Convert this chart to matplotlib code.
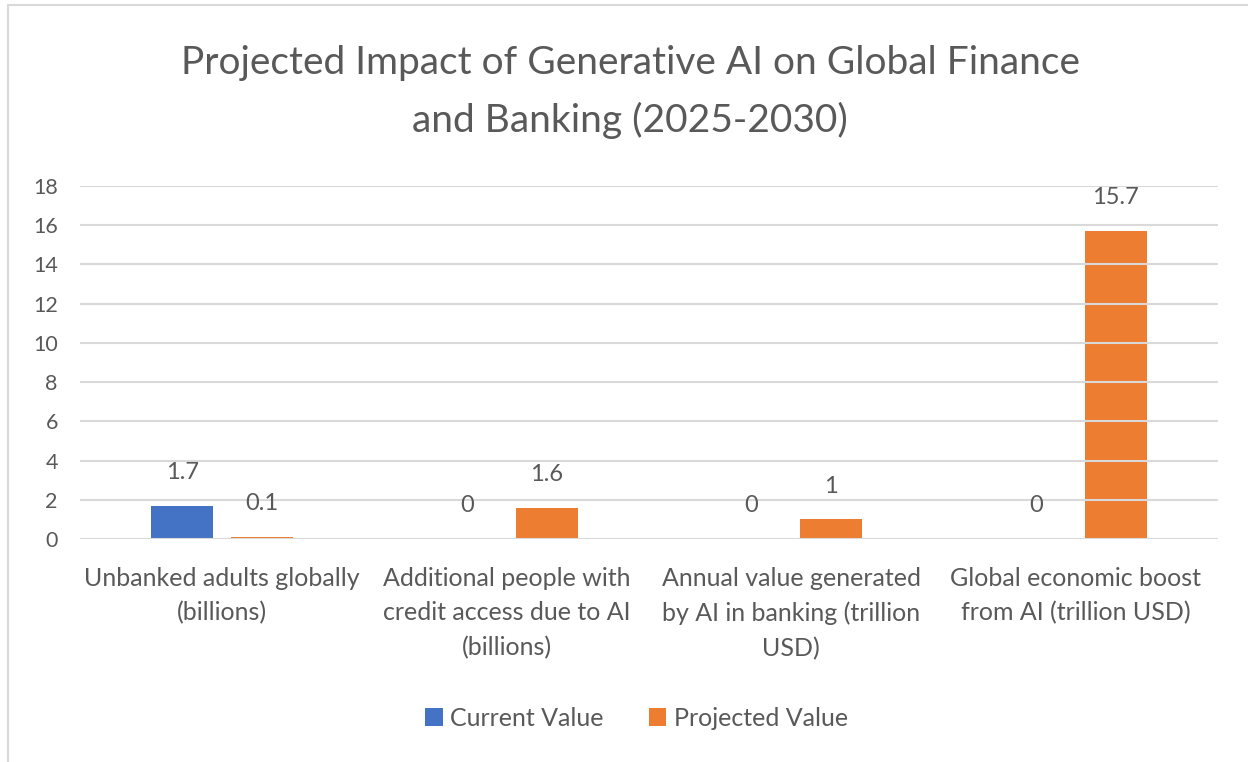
import matplotlib.pyplot as plt
import numpy as np
from matplotlib.patches import Rectangle

plt.rcParams['font.family'] = ['Lato', 'DejaVu Sans']

# data
categories = ['Unbanked adults globally\n(billions)',
              'Additional people with\ncredit access due to AI\n(billions)',
              'Annual value generated\nby AI in banking (trillion\nUSD)',
              'Global economic boost\nfrom AI (trillion USD)']
current_value = [1.7, 0, 0, 0]
projected_value = [0.1, 1.6, 1, 15.7]
series_names = ['Current Value', 'Projected Value']
colors = ['#4472C4', '#ED7D31']
text_color = '#595959'

fig = plt.figure(figsize=(12.48, 7.62), dpi=100)
ax = fig.add_axes([0.0641, 0.2927, 0.912, 0.4633])

x = np.arange(len(categories))
w = 0.218
off = 0.14
bars1 = ax.bar(x - off, current_value, w, color=colors[0], label=series_names[0], zorder=1)
bars2 = ax.bar(x + off, projected_value, w, color=colors[1], label=series_names[1], zorder=1)

# data labels
for bars, vals in ((bars1, current_value), (bars2, projected_value)):
    for b, v in zip(bars, vals):
        ax.annotate(f'{v:g}', (b.get_x() + b.get_width() / 2, v),
                    xytext=(0, 24), textcoords='offset points',
                    ha='center', va='center', fontsize=17, color=text_color)

ax.set_ylim(0, 18)
ax.set_yticks(np.arange(0, 19, 2))
ax.set_xlim(-0.5, len(categories) - 0.5)
ax.set_xticks(x)
ax.set_xticklabels(categories, fontsize=18, color=text_color, linespacing=1.6)
ax.tick_params(axis='y', labelsize=15.5, labelcolor=text_color, length=0, pad=16)
ax.tick_params(axis='x', length=0, pad=20)
ax.set_axisbelow(False)
ax.yaxis.grid(True, color='#D9D9D9', linewidth=1.5, zorder=2)
for s in ax.spines.values():
    s.set_visible(False)

fig.text(0.505, 0.8795, 'Projected Impact of Generative AI on Global Finance\nand Banking (2025-2030)',
         ha='center', va='center', fontsize=28, color=text_color, linespacing=1.68)

fig.legend(loc='center', bbox_to_anchor=(0.51, 0.0577), ncol=2, frameon=False,
           fontsize=18, labelcolor=text_color, handlelength=0.7, handleheight=0.7,
           handletextpad=0.3, columnspacing=1.8)

# chart border (top and left edges visible)
fig.patches.append(Rectangle((0.0065, -0.05), 1.1, 1.043, transform=fig.transFigure,
                             fill=False, edgecolor='#D9D9D9', linewidth=1.5))

fig.savefig('out.png', dpi=100)
